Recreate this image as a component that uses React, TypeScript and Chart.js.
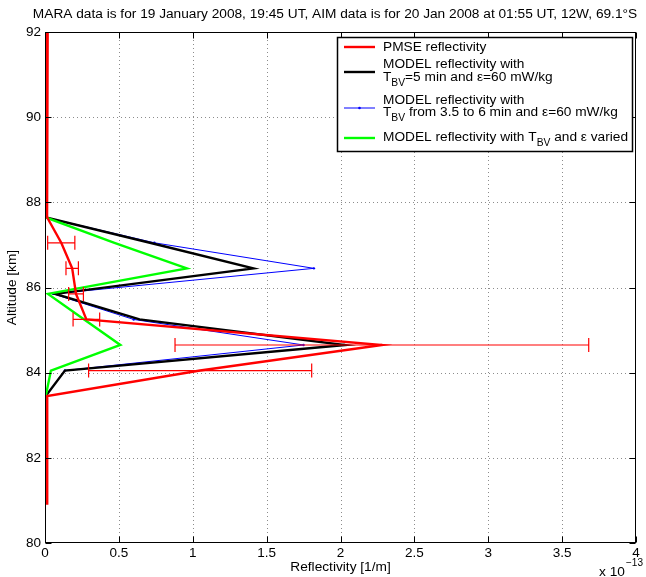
import React, { useEffect, useRef } from "react";
import { Chart, registerables } from "chart.js";

Chart.register(...registerables);

const FONT = '"Liberation Sans", Arial, Helvetica, sans-serif';

const titleText =
  "MARA data is for 19 January 2008, 19:45 UT, AIM data is for 20 Jan 2008 at 01:55 UT, 12W, 69.1\u00b0S";

// Tick positions (reflectivity in units of 1e-13 1/m, altitude in km)
const xTicks = [0, 0.5, 1, 1.5, 2, 2.5, 3, 3.5, 4];
const yTicks = [80, 82, 84, 86, 88, 90, 92];

// Model altitude grid [km]
const modelAltitudes = [87.65, 87.05, 86.45, 85.85, 85.25, 84.65, 84.05, 83.45];

// Model reflectivity, TBV = 5 min, eps = 60 mW/kg
const modelFixed = [0.0, 0.71, 1.41, 0.07, 0.64, 2.03, 0.135, 0.005];
// Model reflectivity, TBV from 3.5 to 6 min, eps = 60 mW/kg
const modelTbvRange = [0.0, 0.74, 1.82, 0.056, 0.6, 1.75, 0.135, 0.005];
// Model reflectivity, TBV and eps varied
const modelVaried = [0.0, 0.47, 0.96, 0.02, 0.265, 0.51, 0.04, 0.005];

// PMSE reflectivity profile (MARA)
const pmseAltitudes = [92, 87.65, 87.05, 86.45, 85.85, 85.25, 84.65, 84.05, 83.45, 80.9];
const pmseReflectivity = [0.018, 0.014, 0.11, 0.184, 0.21, 0.28, 2.28, 1.05, 0.015, 0.015];

// Error bars on the PMSE profile
const errAltitudes = [87.05, 86.45, 85.85, 85.25, 84.65, 84.05];
const errCenters = [0.11, 0.184, 0.21, 0.28, 2.28, 1.05];
const errHalfWidths = [0.092, 0.042, 0.05, 0.09, 1.4, 0.755];

const RED = "#ff0000";
const BLACK = "#000000";
const BLUE = "#0000ff";
const GREEN = "#00ff00";

const TEXT_SIZE = 13.7;

type Part = { t: string; sub?: boolean };

function drawRich(ctx: CanvasRenderingContext2D, parts: Part[], x: number, y: number, size: number) {
  let cx = x;
  for (const p of parts) {
    if (p.sub) {
      ctx.font = `${(size * 0.75).toFixed(1)}px ${FONT}`;
      ctx.fillText(p.t, cx, y + size * 0.42);
    } else {
      ctx.font = `${size}px ${FONT}`;
      ctx.fillText(p.t, cx, y);
    }
    cx += ctx.measureText(p.t).width;
  }
}

const frame = {
  id: "frame",
  beforeDraw(chart: any) {
    const ctx = chart.ctx;
    ctx.save();
    ctx.fillStyle = "#fff";
    ctx.fillRect(0, 0, chart.width, chart.height);
    ctx.restore();
  },
  beforeDatasetsDraw(chart: any) {
    const { ctx, chartArea: a, scales } = chart;
    ctx.save();
    ctx.strokeStyle = "#8c8c8c";
    ctx.lineWidth = 1;
    ctx.setLineDash([1, 3]);
    for (const v of xTicks.slice(1, -1)) {
      const px = Math.round(scales.x.getPixelForValue(v)) + 0.5;
      ctx.beginPath();
      ctx.moveTo(px, a.top);
      ctx.lineTo(px, a.bottom);
      ctx.stroke();
    }
    for (const v of yTicks.slice(1, -1)) {
      const py = Math.round(scales.y.getPixelForValue(v)) + 0.5;
      ctx.beginPath();
      ctx.moveTo(a.left, py);
      ctx.lineTo(a.right, py);
      ctx.stroke();
    }
    ctx.restore();
  },
  afterDatasetsDraw(chart: any) {
    const { ctx, chartArea: a, scales } = chart;
    ctx.save();
    // error bars
    ctx.strokeStyle = RED;
    ctx.lineWidth = 1.2;
    errAltitudes.forEach((alt, i) => {
      const y = scales.y.getPixelForValue(alt);
      const x0 = scales.x.getPixelForValue(errCenters[i] - errHalfWidths[i]);
      const x1 = scales.x.getPixelForValue(errCenters[i] + errHalfWidths[i]);
      ctx.beginPath();
      ctx.moveTo(x0, y);
      ctx.lineTo(x1, y);
      ctx.moveTo(x0, y - 7);
      ctx.lineTo(x0, y + 7);
      ctx.moveTo(x1, y - 7);
      ctx.lineTo(x1, y + 7);
      ctx.stroke();
    });
    // axes box and inward ticks
    ctx.strokeStyle = "#000";
    ctx.lineWidth = 1;
    const L = Math.round(a.left) + 0.5;
    const R = Math.round(a.right) - 0.5;
    const T = Math.round(a.top) + 0.5;
    const B = Math.round(a.bottom) - 0.5;
    ctx.strokeRect(L, T, R - L, B - T);
    const tl = 6;
    ctx.beginPath();
    for (const v of xTicks) {
      const px = Math.round(scales.x.getPixelForValue(v)) + 0.5;
      ctx.moveTo(px, B);
      ctx.lineTo(px, B - tl);
      ctx.moveTo(px, T);
      ctx.lineTo(px, T + tl);
    }
    for (const v of yTicks) {
      const py = Math.round(scales.y.getPixelForValue(v)) + 0.5;
      ctx.moveTo(L, py);
      ctx.lineTo(L + tl, py);
      ctx.moveTo(R, py);
      ctx.lineTo(R - tl, py);
    }
    ctx.stroke();
    ctx.restore();
  },
  afterDraw(chart: any) {
    const { ctx, chartArea: a } = chart;
    ctx.save();
    ctx.fillStyle = "#000";
    ctx.textBaseline = "middle";

    // title
    ctx.font = `${TEXT_SIZE}px ${FONT}`;
    ctx.textAlign = "center";
    ctx.fillText(titleText, 335, 14);

    // axis titles
    ctx.fillText("Reflectivity [1/m]", (a.left + a.right) / 2, 567);
    ctx.save();
    ctx.translate(12, (a.top + a.bottom) / 2);
    ctx.rotate(-Math.PI / 2);
    ctx.fillText("Altitude [km]", 0, 0);
    ctx.restore();

    // exponent of the x axis
    ctx.textAlign = "left";
    ctx.fillText("x 10", 599, 572);
    ctx.font = `10px ${FONT}`;
    ctx.fillText("\u221213", 626, 563);

    // legend
    const bx = 337.5, by = 37.5, bw = 295, bh = 114;
    ctx.fillStyle = "#fff";
    ctx.fillRect(bx, by, bw, bh);
    ctx.strokeStyle = "#000";
    ctx.lineWidth = 1.5;
    ctx.strokeRect(bx, by, bw, bh);

    const sx0 = 344, sx1 = 375, tx = 383, fs = TEXT_SIZE;
    const sample = (y: number, color: string, w: number, dot: boolean) => {
      ctx.strokeStyle = color;
      ctx.lineWidth = w;
      ctx.beginPath();
      ctx.moveTo(sx0, y);
      ctx.lineTo(sx1, y);
      ctx.stroke();
      if (dot) {
        ctx.fillStyle = color;
        ctx.beginPath();
        ctx.arc((sx0 + sx1) / 2, y, 1.3, 0, Math.PI * 2);
        ctx.fill();
      }
    };
    sample(47, RED, 2.4, false);
    sample(72, BLACK, 2.4, false);
    sample(108, BLUE, 1, true);
    sample(138, GREEN, 2.4, false);

    ctx.fillStyle = "#000";
    ctx.textBaseline = "middle";
    drawRich(ctx, [{ t: "PMSE reflectivity" }], tx, 47, fs);
    drawRich(ctx, [{ t: "MODEL reflectivity with" }], tx, 64, fs);
    drawRich(ctx, [{ t: "T" }, { t: "BV", sub: true }, { t: "=5 min and \u03b5=60 mW/kg" }], tx, 77, fs);
    drawRich(ctx, [{ t: "MODEL reflectivity with" }], tx, 100, fs);
    drawRich(ctx, [{ t: "T" }, { t: "BV", sub: true }, { t: " from 3.5 to 6 min and \u03b5=60 mW/kg" }], tx, 112, fs);
    drawRich(ctx, [{ t: "MODEL reflectivity with T" }, { t: "BV", sub: true }, { t: " and \u03b5 varied" }], tx, 137, fs);
    ctx.restore();
  },
};

function pts(xs: number[], ys: number[]) {
  return xs.map((x, i) => ({ x, y: ys[i] }));
}

export default function App() {
  const ref = useRef<HTMLCanvasElement | null>(null);

  useEffect(() => {
    document.body.style.margin = "0";
    const canvas = ref.current;
    if (!canvas) return;
    const tickFont = { family: FONT, size: 13.5 };
    const chart = new Chart(canvas, {
      type: "scatter",
      data: {
        datasets: [
          {
            label: "PMSE reflectivity",
            data: pts(pmseReflectivity, pmseAltitudes),
            borderColor: RED,
            backgroundColor: RED,
            borderWidth: 2.4,
            pointRadius: 0,
            showLine: true,
          },
          {
            label: "MODEL reflectivity with TBV and eps varied",
            data: pts(modelVaried, modelAltitudes),
            borderColor: GREEN,
            backgroundColor: GREEN,
            borderWidth: 2.4,
            pointRadius: 0,
            showLine: true,
          },
          {
            label: "MODEL reflectivity with TBV=5 min and eps=60 mW/kg",
            data: pts(modelFixed, modelAltitudes),
            borderColor: BLACK,
            backgroundColor: BLACK,
            borderWidth: 2.4,
            pointRadius: 0,
            showLine: true,
          },
          {
            label: "MODEL reflectivity with TBV from 3.5 to 6 min and eps=60 mW/kg",
            data: pts(modelTbvRange, modelAltitudes),
            borderColor: BLUE,
            backgroundColor: BLUE,
            borderWidth: 1,
            pointRadius: 1.2,
            pointBorderWidth: 0,
            showLine: true,
          },
        ],
      },
      options: {
        responsive: false,
        animation: false,
        events: [],
        layout: { padding: { top: 32, right: 10, left: 0, bottom: 0 } },
        plugins: { legend: { display: false }, tooltip: { enabled: false } },
        scales: {
          x: {
            type: "linear",
            min: 0,
            max: 4,
            afterBuildTicks: (s: any) => {
              s.ticks = xTicks.map((v) => ({ value: v }));
            },
            afterFit: (s: any) => {
              s.height = 34;
            },
            grid: { display: false, drawTicks: false },
            border: { display: false },
            ticks: {
              font: tickFont,
              color: "#000",
              padding: 2,
              maxRotation: 0,
              autoSkip: false,
              callback: (v: any) => String(v),
            },
          },
          y: {
            type: "linear",
            min: 80,
            max: 92,
            afterBuildTicks: (s: any) => {
              s.ticks = yTicks.map((v) => ({ value: v }));
            },
            afterFit: (s: any) => {
              s.width = 45;
            },
            grid: { display: false, drawTicks: false },
            border: { display: false },
            ticks: {
              font: tickFont,
              color: "#000",
              padding: 4,
              autoSkip: false,
              callback: (v: any) => String(v),
            },
          },
        },
      },
      plugins: [frame],
    });
    return () => chart.destroy();
  }, []);

  return (
    <div style={{ width: 646, height: 577 }}>
      <canvas ref={ref} width={646} height={577} style={{ display: "block" }} />
    </div>
  );
}
